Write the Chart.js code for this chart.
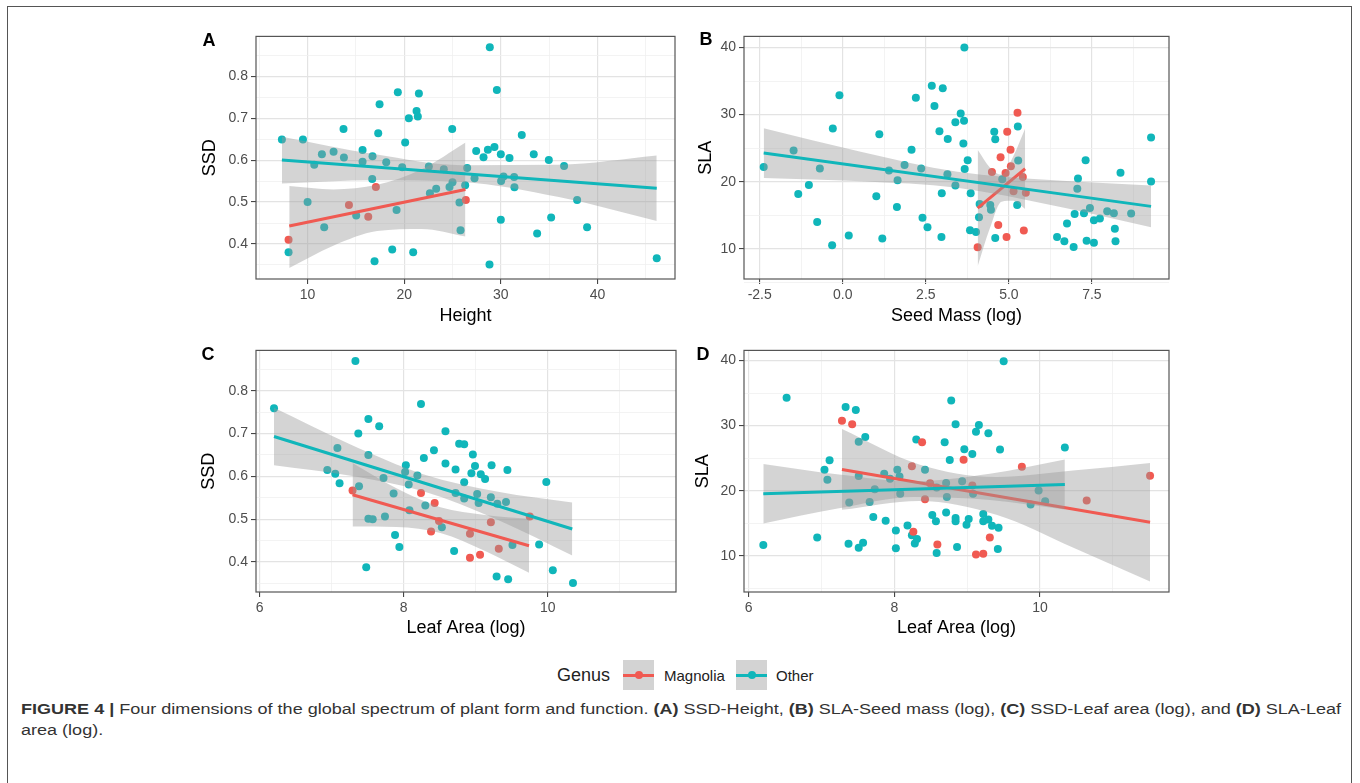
<!DOCTYPE html>
<html>
<head>
<meta charset="utf-8">
<script src="https://cdn.jsdelivr.net/npm/chart.js@4.4.1/dist/chart.umd.min.js"></script>
<style>
  body { margin: 0; width: 1360px; height: 783px; overflow: hidden; position: relative; background: #fff;
         font-family: "Liberation Sans", Arial, sans-serif; }
  .frame { position: absolute; left: 7px; top: 6px; width: 1343px; height: 900px; border: 1.5px solid #555; }
  canvas { position: absolute; }
  .tag { position: absolute; font-weight: bold; font-size: 18px; color: #000; transform: translate(-50%, -50%); z-index: 2; }
  .leg { position: absolute; color: #222; transform: translateY(-50%); white-space: nowrap; }
  .key { position: absolute; top: 660px; width: 31px; height: 30px; background: #d3d3d3; }
  .key .ln { position: absolute; left: 0; right: 0; top: 13.5px; height: 3px; }
  .key .dt { position: absolute; left: 11.5px; top: 11px; width: 8px; height: 8px; border-radius: 50%; }
  .cap { position: absolute; left: 21px; font-size: 14px; line-height: 21px; color: #333; white-space: nowrap;
         display: inline-block; transform-origin: 0 50%; }
</style>
</head>
<body>
<div class="frame"></div>

<canvas id="pA" width="481" height="302" style="left:199px;top:25px"></canvas>
<canvas id="pB" width="479" height="302" style="left:695px;top:25px"></canvas>
<canvas id="pC" width="483" height="300" style="left:198px;top:339px"></canvas>
<canvas id="pD" width="482" height="300" style="left:692px;top:339px"></canvas>

<div class="tag" style="left:209px;top:40px">A</div>
<div class="tag" style="left:706px;top:39px">B</div>
<div class="tag" style="left:208px;top:354px">C</div>
<div class="tag" style="left:703px;top:354px">D</div>

<div class="leg" style="left:557px;top:675px;font-size:18px">Genus</div>
<div class="key" style="left:623px"><div class="ln" style="background:#F05A52"></div><div class="dt" style="background:#F05A52"></div></div>
<div class="leg" style="left:664px;top:675px;font-size:15px">Magnolia</div>
<div class="key" style="left:736px"><div class="ln" style="background:#10B6BA"></div><div class="dt" style="background:#10B6BA"></div></div>
<div class="leg" style="left:776px;top:675px;font-size:15px">Other</div>

<span class="cap" id="cap1" style="top:699px"><b>FIGURE 4 |</b> Four dimensions of the global spectrum of plant form and function. <b>(A)</b> SSD-Height, <b>(B)</b> SLA-Seed mass (log), <b>(C)</b> SSD-Leaf area (log), and <b>(D)</b> SLA-Leaf</span>
<span class="cap" id="cap2" style="top:720px">area (log).</span>

<script>
// ---- A: SSD vs Height ----
const aHeightOther = [7.34, 9.52, 10.69, 11.48, 12.69, 13.72, 13.76, 10.0, 11.72, 8.03, 15.69, 15.69, 16.72, 17.45, 17.31, 16.69, 18.14, 15.03, 19.34, 21.52, 21.28, 21.41, 20.48, 20.10, 19.79, 19.21, 18.76, 16.93, 20.93, 24.97, 22.55, 24.1, 22.66, 23.31, 24.69, 25.0, 26.52, 26.31, 25.72, 25.83, 28.86, 29.59, 27.45, 28.66, 29.34, 28.21, 30.0, 30.9, 27.28, 30.28, 30.03, 31.38, 31.41, 30.0, 28.83, 32.17, 33.41, 34.97, 36.55, 33.76, 35.21, 37.9, 38.93, 46.14];
const aSsdOther = [0.649, 0.649, 0.589, 0.614, 0.620, 0.674, 0.606, 0.500, 0.440, 0.380, 0.624, 0.596, 0.609, 0.733, 0.664, 0.555, 0.595, 0.468, 0.762, 0.759, 0.717, 0.704, 0.700, 0.642, 0.583, 0.481, 0.387, 0.359, 0.380, 0.674, 0.585, 0.578, 0.521, 0.532, 0.536, 0.547, 0.581, 0.540, 0.499, 0.433, 0.869, 0.767, 0.622, 0.625, 0.631, 0.607, 0.614, 0.605, 0.557, 0.561, 0.550, 0.560, 0.535, 0.458, 0.351, 0.660, 0.614, 0.600, 0.586, 0.425, 0.463, 0.505, 0.440, 0.366];
const aHeightMag = [8.03, 14.28, 16.28, 17.07, 26.38];
const aSsdMag = [0.41, 0.493, 0.465, 0.536, 0.505];
const aFitMagX = [8.1, 26.34], aFitMagY = [0.443, 0.530];
const aFitOthX = [7.34, 46.14], aFitOthY = [0.600, 0.533];
const aBandMagX = [8.1, 12.66, 17.2, 21.8, 26.34];
const aBandMagLo = [0.343, 0.396, 0.431, 0.436, 0.418];
const aBandMagHi = [0.538, 0.530, 0.541, 0.578, 0.642];
const aBandOthX = [7.34, 17, 26, 36, 46.14];
const aBandOthLo = [0.544, 0.552, 0.548, 0.512, 0.455];
const aBandOthHi = [0.656, 0.614, 0.588, 0.589, 0.611];

// ---- B: SLA vs Seed Mass (log) ----
const bSeedOther = [-2.38, -1.48, -1.34, -1.02, -0.69, -0.77, -0.30, -0.32, -0.10, 0.18, 1.01, 1.10, 1.19, 1.39, 1.65, 1.63, 1.86, 2.07, 2.20, 2.36, 2.40, 2.55, 2.68, 2.76, 3.01, 2.91, 3.16, 3.15, 2.98, 2.97, 3.39, 3.39, 3.55, 3.65, 3.66, 3.63, 3.67, 3.76, 3.85, 3.83, 4.01, 4.10, 4.12, 4.44, 4.46, 4.56, 4.59, 4.59, 4.80, 5.27, 5.28, 5.25, 6.45, 6.67, 6.75, 6.95, 6.98, 7.06, 7.08, 7.26, 7.31, 7.34, 7.44, 7.56, 7.56, 7.74, 7.96, 8.16, 8.19, 8.21, 8.36, 8.68, 9.28, 9.28];
const bSlaOther = [22.2, 24.66, 18.18, 19.5, 21.98, 13.99, 27.92, 10.53, 32.89, 12.0, 17.84, 27.09, 11.55, 21.69, 20.22, 16.23, 22.51, 24.75, 32.5, 21.98, 14.62, 13.21, 34.3, 31.28, 33.91, 27.53, 26.36, 21.1, 18.28, 11.75, 19.44, 28.85, 30.16, 29.09, 40.0, 25.68, 21.88, 23.2, 18.28, 12.77, 12.53, 14.72, 16.67, 16.52, 15.84, 27.43, 26.31, 11.6, 20.37, 28.21, 23.15, 16.52, 11.75, 11.12, 13.79, 10.29, 15.21, 18.96, 20.47, 15.3, 23.2, 11.21, 16.08, 10.92, 14.28, 14.52, 15.6, 15.3, 13.01, 11.12, 21.34, 15.26, 26.6, 20.03];
const bSeedMag = [4.06, 4.49, 4.68, 4.75, 4.95, 4.90, 4.93, 5.05, 5.06, 5.14, 5.26, 5.42, 5.51, 5.45];
const bSlaMag = [10.24, 21.44, 13.55, 23.63, 27.43, 21.3, 11.75, 24.75, 22.32, 18.57, 30.26, 20.71, 18.37, 12.72];
const bFitMagX = [4.06, 5.49], bFitMagY = [16.08, 21.93];
const bFitOthX = [-2.38, 9.28], bFitOthY = [24.27, 16.33];
const bBandMagX = [4.06, 4.42, 4.78, 5.13, 5.49];
const bBandMagLo = [7.41, 12.95, 17.03, 17.16, 15.93];
const bBandMagHi = [24.75, 22.15, 21.03, 23.76, 27.93];
const bBandOthX = [-2.38, 0.54, 3.45, 6.37, 9.28];
const bBandOthLo = [20.57, 20.08, 19.1, 16.41, 13.23];
const bBandOthHi = [27.97, 24.48, 21.5, 20.21, 19.43];

// ---- C: SSD vs Leaf Area (log) ----
const cLeafOther = [6.20, 7.33, 7.51, 7.37, 7.66, 7.08, 6.94, 7.05, 7.11, 7.51, 7.38, 7.72, 7.86, 7.51, 7.57, 7.74, 7.88, 7.94, 7.48, 8.24, 8.03, 8.02, 8.07, 8.19, 8.28, 8.42, 8.58, 8.58, 8.30, 8.08, 8.53, 8.72, 8.77, 8.84, 8.96, 8.99, 8.94, 9.07, 9.13, 8.84, 8.72, 8.84, 9.02, 9.04, 9.22, 9.44, 9.21, 9.30, 9.42, 9.51, 8.70, 9.29, 9.45, 9.88, 9.98, 10.07, 10.35];
const cSsdOther = [0.759, 0.869, 0.734, 0.700, 0.717, 0.666, 0.615, 0.606, 0.584, 0.650, 0.577, 0.596, 0.560, 0.501, 0.500, 0.506, 0.463, 0.435, 0.388, 0.769, 0.626, 0.610, 0.581, 0.602, 0.643, 0.661, 0.705, 0.630, 0.532, 0.521, 0.481, 0.616, 0.676, 0.675, 0.651, 0.624, 0.607, 0.605, 0.594, 0.586, 0.561, 0.548, 0.559, 0.538, 0.626, 0.615, 0.551, 0.536, 0.540, 0.440, 0.426, 0.366, 0.360, 0.441, 0.587, 0.381, 0.351];
const cLeafMag = [7.29, 8.24, 8.43, 8.38, 8.49, 8.92, 8.92, 9.06, 9.21, 9.32, 9.75];
const cSsdMag = [0.567, 0.561, 0.538, 0.471, 0.496, 0.466, 0.410, 0.417, 0.493, 0.431, 0.506];
const cFitMagX = [7.29, 9.74], cFitMagY = [0.557, 0.438];
const cFitOthX = [6.20, 10.34], cFitOthY = [0.693, 0.477];
const cBandMagX = [7.29, 7.9, 8.51, 9.13, 9.74];
const cBandMagLo = [0.483, 0.482, 0.468, 0.426, 0.375];
const cBandMagHi = [0.631, 0.572, 0.528, 0.51, 0.501];
const cBandOthX = [6.2, 7.24, 8.27, 9.31, 10.34];
const cBandOthLo = [0.626, 0.602, 0.565, 0.498, 0.415];
const cBandOthHi = [0.76, 0.676, 0.605, 0.564, 0.539];

// ---- D: SLA vs Leaf Area (log) ----
const dLeafOther = [6.20, 6.52, 6.94, 7.04, 7.11, 7.08, 7.33, 7.47, 7.60, 7.51, 7.51, 7.38, 7.37, 7.51, 7.57, 7.66, 7.73, 7.71, 7.88, 7.86, 7.94, 8.04, 8.07, 8.08, 8.02, 8.02, 8.18, 8.24, 8.28, 8.31, 8.30, 8.42, 8.52, 8.57, 8.58, 8.71, 8.72, 8.71, 8.58, 8.69, 8.76, 8.78, 8.84, 8.84, 8.84, 8.86, 8.93, 8.96, 9.07, 9.08, 9.02, 8.99, 9.12, 9.16, 9.29, 9.22, 9.22, 9.29, 9.34, 9.43, 9.45, 9.42, 9.50, 9.87, 9.98, 10.07, 10.34];
const dSlaOther = [11.66, 34.27, 12.81, 23.22, 24.67, 21.71, 32.86, 32.41, 28.24, 27.54, 22.26, 18.19, 11.86, 11.26, 12.01, 18.29, 20.25, 15.98, 15.38, 22.61, 21.86, 23.22, 22.21, 19.55, 13.92, 11.16, 14.67, 13.17, 11.91, 12.61, 27.89, 23.22, 16.28, 15.33, 20.5, 21.21, 19.05, 16.68, 10.45, 27.44, 24.72, 33.87, 30.2, 15.83, 15.33, 11.36, 21.46, 26.38, 25.63, 19.55, 15.68, 14.77, 29.05, 30.1, 28.84, 16.43, 15.33, 15.58, 14.62, 14.32, 26.33, 11.06, 39.9, 17.89, 20.05, 18.39, 26.63];
const dLeafMag = [7.28, 7.42, 8.24, 8.38, 8.42, 8.26, 8.49, 8.59, 8.95, 9.07, 9.12, 9.22, 9.31, 9.75, 10.64, 11.51];
const dSlaMag = [30.75, 30.2, 23.77, 27.44, 18.69, 13.72, 21.16, 11.76, 24.77, 20.8, 10.2, 10.35, 12.81, 23.67, 18.49, 22.31];
const dFitMagX = [7.28, 11.51], dFitMagY = [23.27, 15.18];
const dFitOthX = [6.20, 10.34], dFitOthY = [19.55, 20.95];
const dBandMagX = [7.28, 8.34, 9.4, 10.45, 11.51];
const dBandMagLo = [17.07, 18.44, 16.32, 11.3, 6.08];
const dBandMagHi = [29.47, 24.04, 22.12, 23.1, 24.28];
const dBandOthX = [6.2, 7.24, 8.27, 9.31, 10.34];
const dBandOthLo = [14.98, 17.3, 19.05, 18.6, 17.11];
const dBandOthHi = [24.12, 22.5, 21.45, 22.6, 24.79];

// ---- axis ticks (grid = major + minor, labels only on major) ----
const ssdGrid = [0.35, 0.4, 0.45, 0.5, 0.55, 0.6, 0.65, 0.7, 0.75, 0.8, 0.85];
const ssdMajor = [0.4, 0.5, 0.6, 0.7, 0.8];
const ssdLabels = ['0.4', '0.5', '0.6', '0.7', '0.8'];
const slaGrid = [5, 10, 15, 20, 25, 30, 35, 40];
const slaMajor = [10, 20, 30, 40];
const slaLabels = ['10', '20', '30', '40'];
const heightGrid = [5, 10, 15, 20, 25, 30, 35, 40, 45];
const heightMajor = [10, 20, 30, 40];
const heightLabels = ['10', '20', '30', '40'];
const seedGrid = [-2.5, -1.25, 0, 1.25, 2.5, 3.75, 5, 6.25, 7.5, 8.75];
const seedMajor = [-2.5, 0, 2.5, 5, 7.5];
const seedLabels = ['-2.5', '0.0', '2.5', '5.0', '7.5'];
const leafGrid = [6, 7, 8, 9, 10, 11];
const leafMajor = [6, 8, 10];
const leafLabels = ['6', '8', '10'];

const RED = '#F05A52', TEAL = '#10B6BA', RIBBON = 'rgba(153,153,153,0.42)';
Chart.defaults.font.family = '"Liberation Sans", Arial, sans-serif';

const pts = (xs, ys) => xs.map((x, i) => ({ x, y: ys[i] }));

const panelBorder = {
  id: 'panelBorder',
  afterDatasetsDraw(chart) {
    const { ctx, chartArea: a } = chart;
    ctx.save();
    ctx.strokeStyle = '#555';
    ctx.lineWidth = 1.2;
    ctx.strokeRect(a.left, a.top, a.right - a.left, a.bottom - a.top);
    ctx.restore();
  }
};

function axis(min, max, grid, major, labels, title, size, horiz) {
  const isMajor = c => c.tick && major.includes(c.tick.value);
  return {
    type: 'linear', min, max,
    afterBuildTicks: ax => { ax.ticks = grid.map(v => ({ value: v })); },
    afterFit: s => { if (horiz) s.height = size; else s.width = size; },
    ticks: {
      autoSkip: false, maxRotation: 0, padding: 3, color: '#4d4d4d', font: { size: 14 },
      callback: v => { const i = major.indexOf(v); return i < 0 ? '' : labels[i]; }
    },
    grid: {
      color: c => isMajor(c) ? '#e3e3e3' : '#f0f0f0',
      lineWidth: c => isMajor(c) ? 1.2 : 0.8,
      tickLength: 5,
      tickColor: c => isMajor(c) ? '#333' : 'rgba(0,0,0,0)',
      tickWidth: 1
    },
    border: { display: false },
    title: { display: true, text: title, color: '#000', font: { size: 18 }, padding: 0 }
  };
}

function band(xs, lo, hi, order) {
  return [
    { type: 'line', data: pts(xs, hi), fill: '+1', backgroundColor: RIBBON, borderColor: 'transparent',
      borderWidth: 0, pointRadius: 0, cubicInterpolationMode: 'monotone', order },
    { type: 'line', data: pts(xs, lo), fill: false, borderColor: 'transparent',
      borderWidth: 0, pointRadius: 0, cubicInterpolationMode: 'monotone', order }
  ];
}

function fit(xs, ys, color, order) {
  return { type: 'line', data: pts(xs, ys), borderColor: color, borderWidth: 3, pointRadius: 0, fill: false, order };
}

function dots(xs, ys, color) {
  return { type: 'scatter', data: pts(xs, ys), backgroundColor: color, borderWidth: 0, pointRadius: 4, order: 10 };
}

function panel(id, p) {
  new Chart(document.getElementById(id), {
    type: 'scatter',
    data: {
      datasets: [
        dots(p.magX, p.magY, RED),
        dots(p.othX, p.othY, TEAL),
        ...band(p.magBand[0], p.magBand[1], p.magBand[2], 8),
        fit(p.magFit[0], p.magFit[1], RED, 7),
        ...band(p.othBand[0], p.othBand[1], p.othBand[2], 6),
        fit(p.othFit[0], p.othFit[1], TEAL, 5)
      ]
    },
    options: {
      responsive: false, animation: false, events: [],
      layout: { padding: { top: 7, right: 5, left: 0, bottom: 0 } },
      plugins: { legend: { display: false }, tooltip: { enabled: false } },
      scales: { x: p.x, y: p.y }
    },
    plugins: [panelBorder]
  });
}

panel('pA', {
  magX: aHeightMag, magY: aSsdMag, othX: aHeightOther, othY: aSsdOther,
  magBand: [aBandMagX, aBandMagLo, aBandMagHi], othBand: [aBandOthX, aBandOthLo, aBandOthHi],
  magFit: [aFitMagX, aFitMagY], othFit: [aFitOthX, aFitOthY],
  x: axis(4.66, 48.03, heightGrid, heightMajor, heightLabels, 'Height', 48, true),
  y: axis(0.3165, 0.895, ssdGrid, ssdMajor, ssdLabels, 'SSD', 57, false)
});

panel('pB', {
  magX: bSeedMag, magY: bSlaMag, othX: bSeedOther, othY: bSlaOther,
  magBand: [bBandMagX, bBandMagLo, bBandMagHi], othBand: [bBandOthX, bBandOthLo, bBandOthHi],
  magFit: [bFitMagX, bFitMagY], othFit: [bFitOthX, bFitOthY],
  x: axis(-2.973, 9.82, seedGrid, seedMajor, seedLabels, 'Seed Mass (log)', 48, true),
  y: axis(5.51, 41.65, slaGrid, slaMajor, slaLabels, 'SLA', 49, false)
});

panel('pC', {
  magX: cLeafMag, magY: cSsdMag, othX: cLeafOther, othY: cSsdOther,
  magBand: [cBandMagX, cBandMagLo, cBandMagHi], othBand: [cBandOthX, cBandOthLo, cBandOthHi],
  magFit: [cFitMagX, cFitMagY], othFit: [cFitOthX, cFitOthY],
  x: axis(5.95, 11.78, leafGrid, leafMajor, leafLabels, 'Leaf Area (log)', 47, true),
  y: axis(0.33, 0.894, ssdGrid, ssdMajor, ssdLabels, 'SSD', 58, false)
});

panel('pD', {
  magX: dLeafMag, magY: dSlaMag, othX: dLeafOther, othY: dSlaOther,
  magBand: [dBandMagX, dBandMagLo, dBandMagHi], othBand: [dBandOthX, dBandOthLo, dBandOthHi],
  magFit: [dFitMagX, dFitMagY], othFit: [dFitOthX, dFitOthY],
  x: axis(5.935, 11.77, leafGrid, leafMajor, leafLabels, 'Leaf Area (log)', 47, true),
  y: axis(4.46, 41.55, slaGrid, slaMajor, slaLabels, 'SLA', 52, false)
});

// stretch the caption to the width of the figure box
const capW = document.getElementById('cap1').getBoundingClientRect().width;
const capScale = 1320 / capW;
document.querySelectorAll('.cap').forEach(el => { el.style.transform = 'scaleX(' + capScale + ')'; });
</script>
</body>
</html>
